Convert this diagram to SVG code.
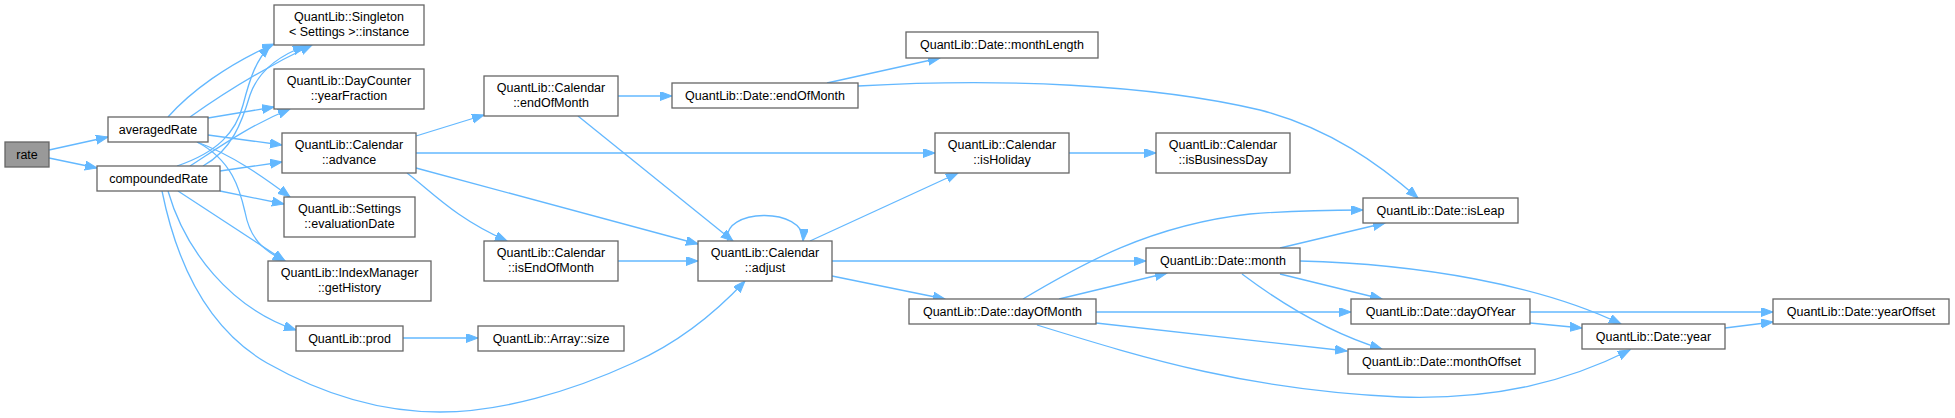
<svg xmlns="http://www.w3.org/2000/svg" width="1955" height="418" viewBox="0 0 1955 418">
<style>
.node rect{fill:#ffffff;stroke:#666666;stroke-width:1.3}
.node.root rect{fill:#999999}
.node text{font-family:"Liberation Sans",Arial,sans-serif;font-size:12.5px;fill:#000000;text-anchor:middle}
.edges path{fill:none;stroke:#63b8ff;stroke-width:1.3;marker-end:url(#arrow)}
</style>
<defs>
<marker id="arrow" markerUnits="userSpaceOnUse" markerWidth="13" markerHeight="10" refX="12" refY="4.5" orient="auto">
<path d="M0,0 L12,4.5 L0,9 z" fill="#63b8ff" stroke="#63b8ff" stroke-width="1"/>
</marker>
</defs>
<rect width="1955" height="418" fill="#ffffff"/>
<g class="edges">
<path d="M49,150 L108,137"/>
<path d="M49,158 L97,168"/>
<path d="M168,117 C190,92 228,64 274,44"/>
<path d="M190,117 C225,92 268,66 312,45"/>
<path d="M177,166 C218,152 236,132 243,105 C250,78 256,60 270,46"/>
<path d="M203,166 C232,150 242,122 250,95 C258,72 278,56 305,46"/>
<path d="M190,166 C215,150 248,126 290,109"/>
<path d="M208,118 L274,107"/>
<path d="M208,135 L282,145"/>
<path d="M220,171 L282,162"/>
<path d="M197,142 C232,155 262,176 290,197"/>
<path d="M220,191 L284,204"/>
<path d="M197,142 C232,160 240,190 245,212 C250,238 262,250 285,261"/>
<path d="M178,191 L285,261"/>
<path d="M168,191 C185,250 230,308 296,330"/>
<path d="M162,191 C178,270 210,330 267,363 C320,393 380,412 440,412 C500,412 570,392 633,363 C680,342 718,310 745,281"/>
<path d="M416,136 L484,115"/>
<path d="M416,153 L935,153"/>
<path d="M416,168 L698,244"/>
<path d="M407,173 C432,192 455,218 507,241"/>
<path d="M618,96 L672,96"/>
<path d="M578,116 L733,241"/>
<path d="M618,261 L698,261"/>
<path d="M403,338 L478,338"/>
<path d="M728,241 C720,208 806,206 803,241"/>
<path d="M827,83 L940,58"/>
<path d="M858,86 C1000,78 1150,84 1260,110 C1330,128 1380,165 1418,198"/>
<path d="M810,241 L958,173"/>
<path d="M832,261 L1146,261"/>
<path d="M832,276 L945,299"/>
<path d="M1069,153 L1156,153"/>
<path d="M1023,299 C1080,265 1150,225 1250,214 C1300,210 1340,210 1363,210"/>
<path d="M1059,299 L1167,273"/>
<path d="M1096,312 L1351,312"/>
<path d="M1096,323 L1347,351"/>
<path d="M1037,325 C1150,360 1250,390 1400,397 C1500,400 1570,380 1630,350"/>
<path d="M1280,248 L1385,223"/>
<path d="M1280,274 L1382,299"/>
<path d="M1242,274 C1270,295 1320,330 1382,349"/>
<path d="M1300,261 C1420,264 1540,285 1621,324"/>
<path d="M1530,312 L1773,312"/>
<path d="M1530,323 L1582,328"/>
<path d="M1725,328 L1773,322"/>
</g>
<g id="n_rate" class="node root"><rect x="5" y="142" width="44" height="25"/><text x="27" y="158.5">rate</text></g>
<g id="n_averagedRate" class="node"><rect x="108" y="117" width="100" height="25"/><text x="158" y="133.5">averagedRate</text></g>
<g id="n_compoundedRate" class="node"><rect x="97" y="166" width="123" height="25"/><text x="158.5" y="182.5">compoundedRate</text></g>
<g id="n_singleton" class="node"><rect x="274" y="5" width="150" height="40"/><text x="349" y="21">QuantLib::Singleton</text><text x="349" y="36">&lt; Settings &gt;::instance</text></g>
<g id="n_yearFraction" class="node"><rect x="274" y="69" width="150" height="40"/><text x="349" y="85">QuantLib::DayCounter</text><text x="349" y="100">::yearFraction</text></g>
<g id="n_advance" class="node"><rect x="282" y="133" width="134" height="40"/><text x="349" y="149">QuantLib::Calendar</text><text x="349" y="164">::advance</text></g>
<g id="n_evaluationDate" class="node"><rect x="284" y="197" width="131" height="40"/><text x="349.5" y="213">QuantLib::Settings</text><text x="349.5" y="228">::evaluationDate</text></g>
<g id="n_getHistory" class="node"><rect x="268" y="261" width="163" height="40"/><text x="349.5" y="277">QuantLib::IndexManager</text><text x="349.5" y="292">::getHistory</text></g>
<g id="n_prod" class="node"><rect x="296" y="326" width="107" height="25"/><text x="349.5" y="342.5">QuantLib::prod</text></g>
<g id="n_cal_endOfMonth" class="node"><rect x="484" y="76" width="134" height="40"/><text x="551" y="92">QuantLib::Calendar</text><text x="551" y="107">::endOfMonth</text></g>
<g id="n_isEndOfMonth" class="node"><rect x="484" y="241" width="134" height="40"/><text x="551" y="257">QuantLib::Calendar</text><text x="551" y="272">::isEndOfMonth</text></g>
<g id="n_size" class="node"><rect x="478" y="326" width="146" height="25"/><text x="551" y="342.5">QuantLib::Array::size</text></g>
<g id="n_date_endOfMonth" class="node"><rect x="672" y="83" width="186" height="25"/><text x="765" y="99.5">QuantLib::Date::endOfMonth</text></g>
<g id="n_adjust" class="node"><rect x="698" y="241" width="134" height="40"/><text x="765" y="257">QuantLib::Calendar</text><text x="765" y="272">::adjust</text></g>
<g id="n_monthLength" class="node"><rect x="906" y="32" width="192" height="26"/><text x="1002" y="49">QuantLib::Date::monthLength</text></g>
<g id="n_isHoliday" class="node"><rect x="935" y="133" width="134" height="40"/><text x="1002" y="149">QuantLib::Calendar</text><text x="1002" y="164">::isHoliday</text></g>
<g id="n_isBusinessDay" class="node"><rect x="1156" y="133" width="134" height="40"/><text x="1223" y="149">QuantLib::Calendar</text><text x="1223" y="164">::isBusinessDay</text></g>
<g id="n_dayOfMonth" class="node"><rect x="909" y="299" width="187" height="25"/><text x="1002.5" y="315.5">QuantLib::Date::dayOfMonth</text></g>
<g id="n_isLeap" class="node"><rect x="1363" y="198" width="155" height="25"/><text x="1440.5" y="214.5">QuantLib::Date::isLeap</text></g>
<g id="n_month" class="node"><rect x="1146" y="248" width="154" height="25"/><text x="1223" y="264.5">QuantLib::Date::month</text></g>
<g id="n_dayOfYear" class="node"><rect x="1351" y="299" width="179" height="25"/><text x="1440.5" y="315.5">QuantLib::Date::dayOfYear</text></g>
<g id="n_monthOffset" class="node"><rect x="1348" y="349" width="187" height="25"/><text x="1441.5" y="365.5">QuantLib::Date::monthOffset</text></g>
<g id="n_year" class="node"><rect x="1582" y="324" width="143" height="25"/><text x="1653.5" y="340.5">QuantLib::Date::year</text></g>
<g id="n_yearOffset" class="node"><rect x="1773" y="299" width="176" height="25"/><text x="1861" y="315.5">QuantLib::Date::yearOffset</text></g>
</svg>
